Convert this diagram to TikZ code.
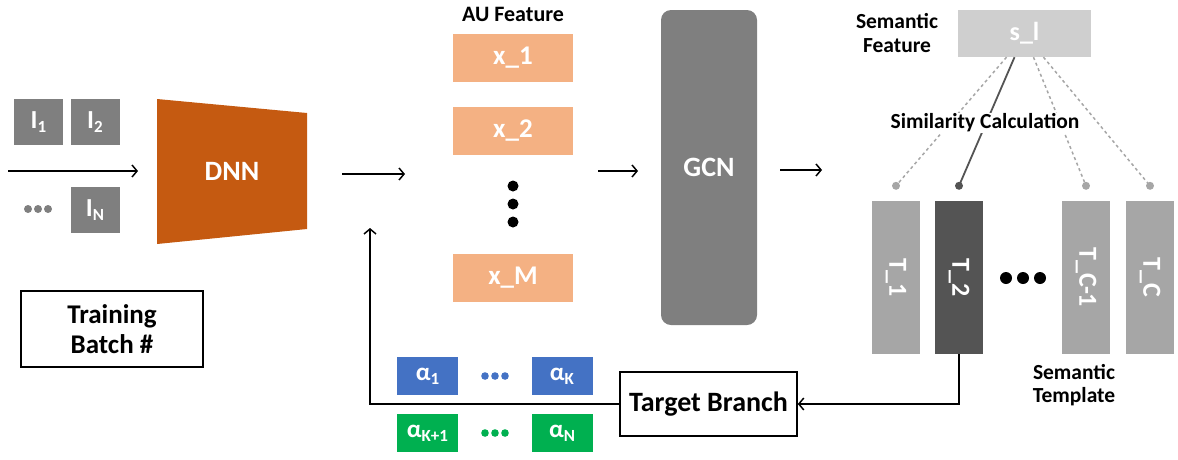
\documentclass[tikz,border=0pt]{standalone}
\usepackage{fontspec}
\setmainfont{Carlito}
\usetikzlibrary{positioning,arrows.meta}
\definecolor{dnnorange}{HTML}{C55A11}
\definecolor{featorange}{HTML}{F4B183}
\definecolor{boxgray}{HTML}{7F7F7F}
\definecolor{lightgray}{HTML}{CFCFCF}
\definecolor{tempgray}{HTML}{A6A6A6}
\definecolor{darkgray}{HTML}{545454}
\definecolor{alphablue}{HTML}{4472C4}
\definecolor{alphagreen}{HTML}{00B050}
\newcommand\lowsub[1]{\raisebox{-0.35ex}{\fontsize{17}{17}\selectfont #1}}
\newcommand\fsz[1]{\fontsize{#1}{#1}\selectfont}

\begin{document}
\begin{tikzpicture}[x=1pt,y=-1pt,
    >={Straight Barb[length=5pt,width=12pt]},
    flow/.style={line width=1.5pt},
    filled/.style={inner sep=0pt,text=white,font=\bfseries\fsz{26}},
    label/.style={inner sep=1pt,align=center,font=\bfseries\fsz{21.5}},
    framed/.style={draw,line width=1.6pt,inner sep=0pt,align=center}]
    \useasboundingbox (0,0) rectangle (1178,459);

    % input batch
    \node[filled,fill=boxgray,minimum width=49,minimum height=46] (I1) at (38.5,122) {I\lowsub{1}};
    \node[filled,fill=boxgray,minimum width=49,minimum height=46] (I2) at (95,122) {I\lowsub{2}};
    \node[filled,fill=boxgray,minimum width=49,minimum height=46] (IN) at (95,210) {I\lowsub{N}};
    \foreach \x in {28,38,48}
        \fill[boxgray] (\x,209) circle (4);
    \coordinate (in0) at (8,171);
    \coordinate (in1) at (138,171);
    \draw[flow,->] (in0) -- (in1);

    % backbone
    \fill[dnnorange] (157,99) -- (307,113) -- (307,229) -- (157,244) -- cycle;
    \node[filled,font=\bfseries\fsz{28}] (dnn) at (232,171) {DNN};
    \coordinate (d0) at (342,174);
    \coordinate (d1) at (405,174);
    \draw[flow,->] (d0) -- (d1);

    % AU features
    \node[label,font=\bfseries\fsz{22}] (au) at (513,14) {AU Feature};
    \node[filled,fill=featorange,minimum width=120,minimum height=48,font=\bfseries\fsz{27}] (x1) at (513,58) {x\_1};
    \node[filled,fill=featorange,minimum width=120,minimum height=48,font=\bfseries\fsz{27}] (x2) at (513,131) {x\_2};
    \node[filled,fill=featorange,minimum width=120,minimum height=48,font=\bfseries\fsz{27}] (xM) at (513,277.5) {x\_M};
    \foreach \y in {186,204,222}
        \fill (513,\y) circle (5.5);
    \coordinate (g0) at (598,171);
    \coordinate (g1) at (638,171);
    \draw[flow,->] (g0) -- (g1);

    % GCN
    \node[filled,fill=boxgray,rounded corners=10,minimum width=96,minimum height=315,font=\bfseries\fsz{28}] (gcn) at (709,167.5) {GCN};
    \coordinate (c0) at (780,170);
    \coordinate (c1) at (822,170);
    \draw[flow,->] (c0) -- (c1);

    % semantic part
    \node[label] (sf) at (897,33) {Semantic\\[2pt]Feature};
    \node[filled,fill=lightgray,minimum width=133,minimum height=47] (sl) at (1024.5,33.5) {s\_l};
    \node[filled,fill=tempgray,rotate=-90,minimum width=153,minimum height=48] (T1) at (896,277.5) {T\_1};
    \node[filled,fill=darkgray,rotate=-90,minimum width=153,minimum height=48] (T2) at (959,277.5) {T\_2};
    \node[filled,fill=tempgray,rotate=-90,minimum width=153,minimum height=48] (TC1) at (1086,277.5) {T\_C-1};
    \node[filled,fill=tempgray,rotate=-90,minimum width=153,minimum height=48] (TC) at (1150,277.5) {T\_C};
    \coordinate (p1) at ([yshift=15pt]T1.west);
    \coordinate (p2) at ([yshift=15pt]T2.west);
    \coordinate (p3) at ([yshift=15pt]TC1.west);
    \coordinate (p4) at ([yshift=15pt]TC.west);
    \draw[tempgray,dashed,line width=1.5pt] ([xshift=-18pt]sl.south) -- (p1);
    \draw[darkgray,line width=1.8pt] ([xshift=-10pt]sl.south) -- (p2);
    \draw[tempgray,dashed,line width=1.5pt] ([xshift=9pt]sl.south) -- (p3);
    \draw[tempgray,dashed,line width=1.5pt] ([xshift=19pt]sl.south) -- (p4);
    \fill[tempgray] (p1) circle (4) (p3) circle (4) (p4) circle (4);
    \fill[darkgray] (p2) circle (4);
    \node[label,fill=white,font=\bfseries\fsz{21.5}] (sim) at (985,123) {Similarity Calculation};
    \foreach \x in {1006,1023,1040}
        \fill (\x,278) circle (6);
    \node[label] (st) at (1074,385) {Semantic\\[2pt]Template};

    % target branch and weights
    \node[framed,minimum width=177,minimum height=64,font=\bfseries\fsz{28}] (tb) at (708.5,404) {Target Branch};
    \coordinate (fb) at (370,228);
    \draw[flow,->] (T2.east) |- (tb.east);
    \draw[flow,->] (tb.west) -| (fb);
    \node[filled,fill=alphablue,minimum width=61,minimum height=38,font=\bfseries\fsz{25}] (a1) at (427.5,376) {α\lowsub{1}};
    \node[filled,fill=alphablue,minimum width=61,minimum height=38,font=\bfseries\fsz{25}] (aK) at (562,376) {α\lowsub{K}};
    \node[filled,fill=alphagreen,minimum width=61,minimum height=38,font=\bfseries\fsz{25}] (aK1) at (427.5,433) {α\lowsub{K+1}};
    \node[filled,fill=alphagreen,minimum width=61,minimum height=38,font=\bfseries\fsz{25}] (aN) at (562,433) {α\lowsub{N}};
    \foreach \x in {485,495,505}{
        \fill[alphablue] (\x,376) circle (3.8);
        \fill[alphagreen] (\x,433) circle (3.8);
    }

    % batch label
    \node[framed,minimum width=182,minimum height=76,font=\bfseries\fsz{27}] (trb) at (112,329) {Training\\[3pt]Batch \#};
\end{tikzpicture}
\end{document}
